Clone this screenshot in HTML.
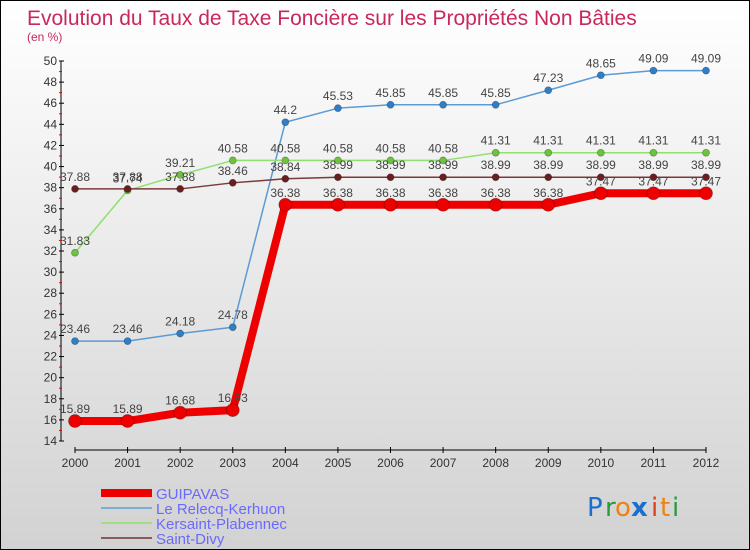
<!DOCTYPE html>
<html><head><meta charset="utf-8"><style>
html,body{margin:0;padding:0}
body{width:750px;height:550px;overflow:hidden;font-family:"Liberation Sans",sans-serif}
#wrap{position:relative;width:748px;height:548px;border:1px solid #000;background:linear-gradient(#ffffff,#d2d2d2)}
svg{position:absolute;left:0;top:0}
</style></head><body>
<div id="wrap">
<svg id="chart" width="748" height="548">
<text x="26" y="24" font-size="21" fill="#c8285a">Evolution du Taux de Taxe Foncière sur les Propriétés Non Bâties</text>
<text x="26" y="40" font-size="12" fill="#c8285a">(en %)</text>
<g id="axes"></g><g id="series"></g><g id="legend"></g>
<g font-size="26" font-family="'DejaVu Sans',sans-serif">
<text x="586" y="515" fill="#1a6fd0">P</text><text x="604" y="515" fill="#2a9a3a">r</text><text x="614" y="515" fill="#f08010">o</text><text x="630" y="515" fill="#1a6fd0" font-weight="bold">x</text><text x="650" y="515" fill="#e04020">i</text><text x="659" y="515" fill="#f08010">t</text><text x="671" y="515" fill="#2a9a3a">i</text>
</g>
</svg></div>
<script>
const years=[2000,2001,2002,2003,2004,2005,2006,2007,2008,2009,2010,2011,2012];
const guipavas=[15.89,15.89,16.68,16.93,36.38,36.38,36.38,36.38,36.38,36.38,37.47,37.47,37.47];
const relecq=[23.46,23.46,24.18,24.78,44.2,45.53,45.85,45.85,45.85,47.23,48.65,49.09,49.09];
const kersaint=[31.83,37.74,39.21,40.58,40.58,40.58,40.58,40.58,41.31,41.31,41.31,41.31,41.31];
const divy=[37.88,37.88,37.88,38.46,38.84,38.99,38.99,38.99,38.99,38.99,38.99,38.99,38.99];
const yTicks=[14,16,18,20,22,24,26,28,30,32,34,36,38,40,42,44,46,48,50];
const NS="http://www.w3.org/2000/svg";
const x0=74,x1=705,yMin=14,yMax=50,py0=440,py1=60;
const X=i=>x0+(x1-x0)*i/(years.length-1);
const Y=v=>py0-(v-yMin)*(py0-py1)/(yMax-yMin);
function mk(tag,attrs,parent,txt){const e=document.createElementNS(NS,tag);for(const k in attrs)e.setAttribute(k,attrs[k]);if(txt!==undefined)e.textContent=txt;parent.appendChild(e);return e;}
const axes=document.getElementById('axes');
let e=mk('line',{x1:60,y1:Y(yMax),x2:60,y2:Y(yMin),stroke:'#000'},axes);


e=mk('line',{x1:x0,y1:449,x2:x1,y2:449,stroke:'#000'},axes);


yTicks.forEach(t=>{
 mk('line',{x1:58,y1:Y(t),x2:63,y2:Y(t),stroke:'#000'},axes);
 if(t<yMax) mk('line',{x1:58,y1:Y(t+1),x2:61,y2:Y(t+1),stroke:'#e00'},axes);
 const l=mk('text',{x:56,y:Y(t)+4,'font-size':12,fill:'#333','text-anchor':'end'},axes,String(t));
 
 
});
years.forEach((yr,i)=>{
 mk('line',{x1:X(i),y1:446,x2:X(i),y2:452,stroke:'#000'},axes);
 const l=mk('text',{x:X(i),y:466,'font-size':12,fill:'#333','text-anchor':'middle'},axes,String(yr));
 
 
});
const ser=document.getElementById('series');
function draw(vals,name,color,dot,w,r){
 const g=mk('g',{},ser);
 
 
 const p=mk('polyline',{points:vals.map((v,i)=>X(i)+','+Y(v)).join(' '),fill:'none',stroke:color,'stroke-width':w,'stroke-linejoin':'round'},g);
 
 
 vals.forEach((v,i)=>{
  const c=mk('circle',{cx:X(i),cy:Y(v),r:r,fill:dot,stroke:'rgba(0,0,0,0.3)','stroke-width':0.8},g);
  
  
  const t=mk('text',{x:X(i),y:Y(v)-8,'font-size':12,fill:'#444','text-anchor':'middle'},g,String(v));
  
  
 });
}
draw(relecq,'le-relecq-kerhuon','#5b9bd5','#2f7fc8',1.5,3.5);
draw(kersaint,'kersaint-plabennec','#90e070','#6cc43c',1.5,3.5);
draw(divy,'saint-divy','#7a3a3a','#6a1f1f',1.5,3.5);
draw(guipavas,'guipavas','#ee0000','#ee0000',8,6.5);
const leg=document.getElementById('legend');
[['GUIPAVAS','#ee0000',8],['Le Relecq-Kerhuon','#7aaed0',2],['Kersaint-Plabennec','#9ee080',2],['Saint-Divy','#8a5a5a',2]].forEach((d,i)=>{
 const y=492+i*15;
 const g=mk('g',{},leg);
 
 
 mk('line',{x1:100,y1:y,x2:151,y2:y,stroke:d[1],'stroke-width':d[2]},g);
 mk('text',{x:155,y:y+6,'font-size':15,fill:'#6a6aff'},g,d[0]);
});
</script>
</body></html>
